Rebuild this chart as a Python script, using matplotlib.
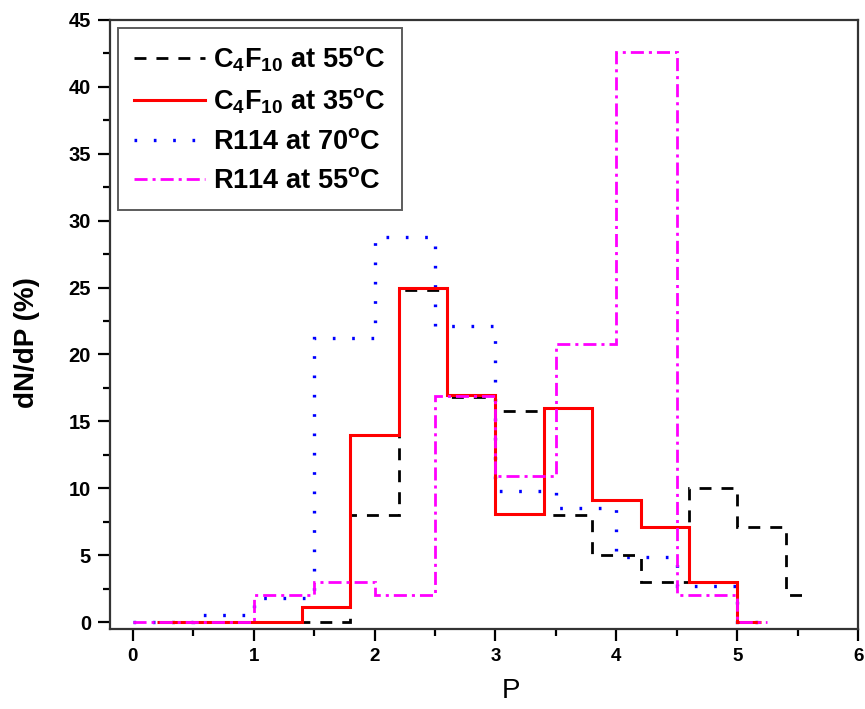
import matplotlib
matplotlib.use("Agg")
from matplotlib import pyplot
from matplotlib.ticker import MultipleLocator

pyplot.rcParams["font.family"] = ["Liberation Sans", "DejaVu Sans"]
pyplot.rcParams["mathtext.fontset"] = "custom"
pyplot.rcParams["mathtext.rm"] = "Liberation Sans:bold"
pyplot.rcParams["mathtext.bf"] = "Liberation Sans:bold"
pyplot.rcParams["mathtext.default"] = "bf"

# C4F10 series (0.4-wide bins)
c4f10_55_edges = [1.0, 1.4, 1.8, 2.2, 2.6, 3.0, 3.4, 3.8, 4.2, 4.6, 5.0, 5.4, 5.6]
c4f10_55_values = [0, 0, 8.0, 24.8, 16.8, 15.8, 8.0, 5.0, 3.0, 10.0, 7.1, 2.0]

c4f10_35_edges = [0.2, 0.6, 1.0, 1.4, 1.8, 2.2, 2.6, 3.0, 3.4, 3.8, 4.2, 4.6, 5.0, 5.2]
c4f10_35_values = [0, 0, 0, 1.1, 14.0, 25.0, 17.0, 8.1, 16.0, 9.1, 7.1, 3.0, 0]

# R114 series (0.5-wide bins)
r114_edges = [0.0, 0.5, 1.0, 1.5, 2.0, 2.5, 3.0, 3.5, 4.0, 4.5, 5.0, 5.25]
r114_70_values = [0, 0.5, 1.8, 21.2, 28.8, 22.1, 9.8, 8.5, 4.9, 2.7, 0]
r114_55_values = [0, 0, 2.0, 3.0, 2.0, 16.9, 10.9, 20.8, 42.6, 2.0, 0]

labels = [
    r"C$_{4}$F$_{10}$ at 55$^{o}$C",
    r"C$_{4}$F$_{10}$ at 35$^{o}$C",
    r"R114 at 70$^{o}$C",
    r"R114 at 55$^{o}$C",
]

fig = pyplot.figure(figsize=(8.65, 7.09), dpi=100)
ax = fig.add_axes([0.127, 0.113, 0.865, 0.859])

lw = 2.0
ax.stairs(c4f10_55_values, c4f10_55_edges, baseline=None, color="black",
          linewidth=lw, linestyle=(0, (4.3, 3.6)), label=labels[0], zorder=3)
ax.stairs(c4f10_35_values, c4f10_35_edges, baseline=None, color="#ff0000",
          linewidth=2.2, linestyle="-", label=labels[1], zorder=4)
ax.stairs(r114_70_values, r114_edges, baseline=None, color="#0000ff",
          linewidth=2.4, linestyle=(0, (0.8, 5.0)), label=labels[2], zorder=2)
ax.stairs(r114_55_values, r114_edges, baseline=None, color="#ff00ff",
          linewidth=lw, linestyle=(0, (4.7, 1.8, 1.1, 1.8)), label=labels[3], zorder=5)

ax.set_xlim(-0.19, 6)
ax.set_ylim(-0.5, 45)
ax.xaxis.set_major_locator(MultipleLocator(1))
ax.xaxis.set_minor_locator(MultipleLocator(0.5))
ax.yaxis.set_major_locator(MultipleLocator(5))
ax.yaxis.set_minor_locator(MultipleLocator(2.5))

for side in ["left", "bottom", "top", "right"]:
    ax.spines[side].set_linewidth(1.6)
    ax.spines[side].set_color("#333333")
ax.tick_params(which="major", direction="out", length=8.5, width=1.6, pad=5,
               top=False, right=False)
ax.tick_params(which="minor", direction="out", length=5, width=1.6,
               top=False, right=False)
ax.tick_params(axis="y", labelsize=14.5)
ax.tick_params(axis="x", labelsize=13.5)
for label in ax.get_xticklabels() + ax.get_yticklabels():
    label.set_fontweight("bold")

ax.set_xlabel("P", fontsize=20)
ax.xaxis.set_label_coords(0.536, -0.08)
ax.set_ylabel("dN/dP (%)", fontsize=20, fontweight="bold")
ax.yaxis.set_label_coords(-0.094, 0.47)

leg = ax.legend(loc="upper left", fontsize=19.5, handlelength=2.6,
                frameon=True, fancybox=False, borderaxespad=0.3,
                handletextpad=0.3, labelspacing=0.48, borderpad=0.6)
leg.get_frame().set_edgecolor("#333333")
leg.get_frame().set_linewidth(1.4)
for text in leg.get_texts():
    text.set_fontweight("bold")

fig.savefig("out.png", dpi=100)
